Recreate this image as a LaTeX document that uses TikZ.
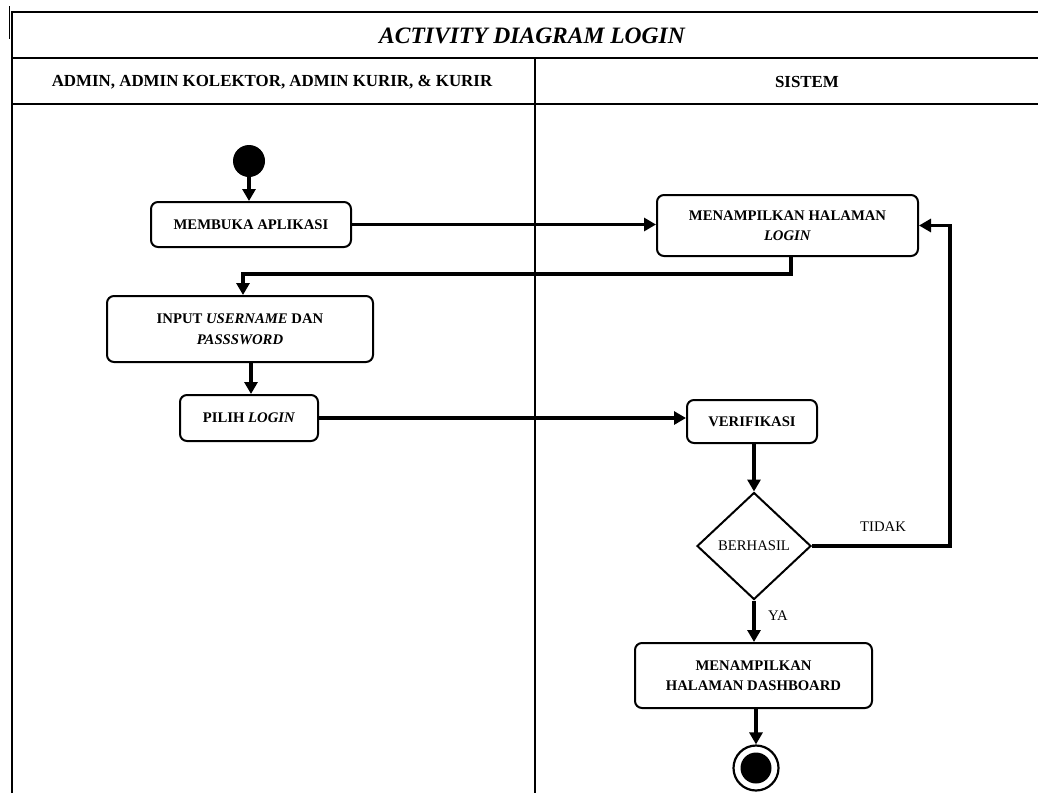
\documentclass[tikz,border=0pt]{standalone}
\usepackage{fontspec}
\setmainfont{Liberation Serif}
\usetikzlibrary{arrows.meta,shapes.geometric}
\begin{document}
\begin{tikzpicture}[x=1pt,y=-1pt,
 act/.style={draw,line width=2pt,rounded corners=7pt,inner sep=0pt,align=center,font=\fontsize{14.7}{20.5}\selectfont\bfseries},
 flow/.style={line width=3.2pt,-{Triangle[length=12pt,width=13pt]}},
 lane/.style={line width=2.2pt},
 lbl/.style={font=\fontsize{14.7}{18}\selectfont},
 hdr/.style={font=\fontsize{16.9}{20}\selectfont\bfseries}]
\useasboundingbox (0,0) rectangle (1038,793);
% swimlane frame
\draw[lane] (12,793) -- (12,12) -- (1038,12);
\draw[lane] (12,58) -- (1038,58);
\draw[lane] (12,104) -- (1038,104);
\draw[lane] (535,58) -- (535,793);
\draw[line width=1.5pt] (9.5,6) -- (9.5,39);
\node[font=\fontsize{23.5}{28}\selectfont\bfseries\itshape] (title) at (532,36) {ACTIVITY DIAGRAM LOGIN};
\node[hdr] (laneA) at (272,82) {ADMIN, ADMIN KOLEKTOR, ADMIN KURIR, \& KURIR};
\node[hdr] (laneB) at (807,82) {SISTEM};
% nodes
\node[circle,fill,minimum size=32pt,inner sep=0pt] (start) at (249,161) {};
\node[act,minimum width=200pt,minimum height=45pt] (membuka) at (251,224.5) {MEMBUKA APLIKASI};
\node[act,minimum width=261pt,minimum height=61pt] (tampil) at (787.5,225.5) {MENAMPILKAN HALAMAN\\\textit{LOGIN}};
\node[act,minimum width=266pt,minimum height=66pt] (input) at (240,329) {INPUT \textit{USERNAME} DAN\\\textit{PASSSWORD}};
\node[act,minimum width=138pt,minimum height=46pt] (pilih) at (249,418) {PILIH \textit{LOGIN}};
\node[act,minimum width=130pt,minimum height=43pt] (verif) at (752,421.5) {VERIFIKASI};
\node[diamond,draw,line width=2pt,minimum width=114pt,minimum height=107pt,inner sep=0pt,lbl] (dec) at (754,546) {BERHASIL};
\node[act,minimum width=237pt,minimum height=65pt] (dash) at (753.5,675.5) {MENAMPILKAN\\HALAMAN DASHBOARD};
\node[circle,draw,line width=2.2pt,minimum size=45pt,inner sep=0pt] (end) at (756,768) {};
\node[circle,fill,minimum size=31pt,inner sep=0pt] (endin) at (end) {};
\coordinate (tk) at (950,546);
% connectors
\draw[flow] (start) -- (start |- membuka.north);
\draw[flow] (membuka.east) -- (membuka.east -| tampil.west);
\draw[flow] ([xshift=3.5pt]tampil.south) -- ++(0,17) -| ([xshift=3pt]input.north);
\draw[flow] ([xshift=11pt]input.south) -- ([xshift=2pt]pilih.north);
\draw[flow] (pilih.east) -- (pilih.east -| verif.west);
\draw[flow] (dec.north |- verif.south) -- (dec.north);
\draw[flow] (dec.east) -- (tk) |- (tampil.east);
\draw[flow] (dec.south) -- (dec.south |- dash.north);
\draw[flow] (dash.south -| end) -- (end.north);
\node[lbl] (tidak) at (883,527) {TIDAK};
\node[lbl] (ya) at (778,616) {YA};
\end{tikzpicture}
\end{document}
